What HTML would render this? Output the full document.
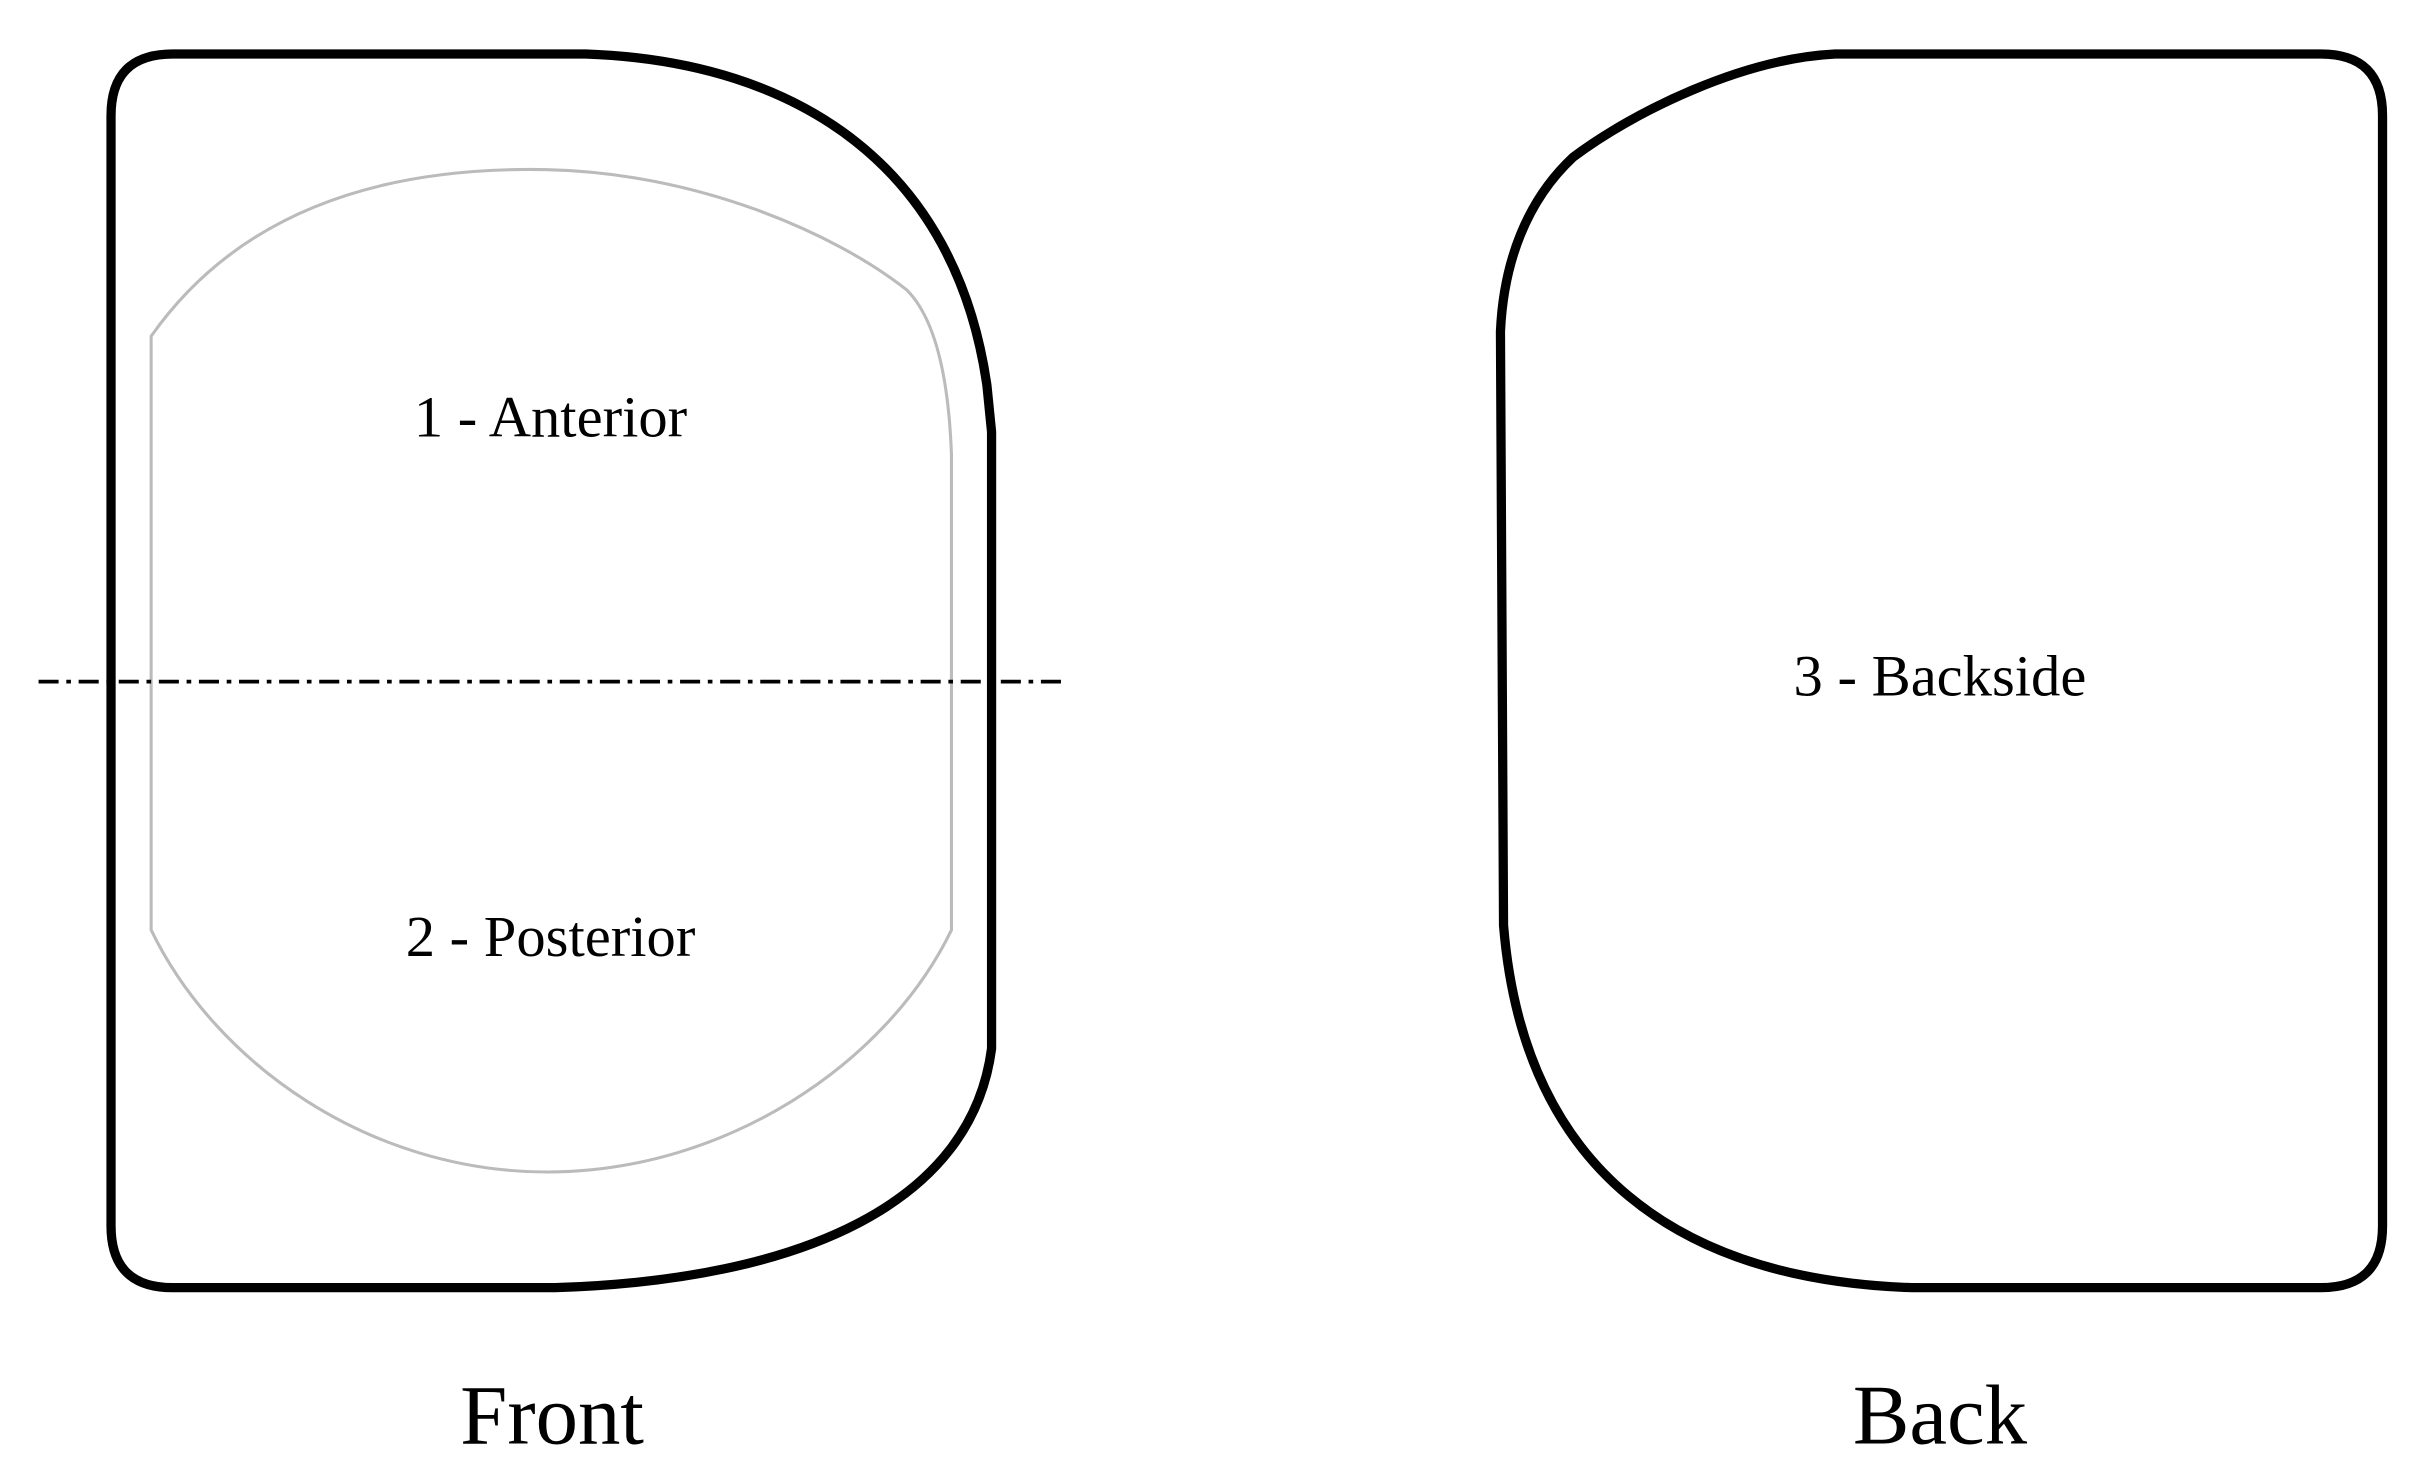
<!DOCTYPE html>
<html><head><style>html,body{margin:0;padding:0;background:#fff}svg{display:block}</style></head>
<body>
<svg width="2418" height="1478" viewBox="0 0 1568 958.4" xmlns="http://www.w3.org/2000/svg">
<rect width="1568" height="958.4" fill="#fff"/>
<path d="M112,35 L380,35 C520,40 620,110 640,250 L643,280 L643,680 C630,780 520,830 360,835 L112,835 Q72,835 72,795 L72,75 Q72,35 112,35 Z" fill="none" stroke="#000" stroke-width="6" stroke-linejoin="round"/>
<path d="M98,218 C160,130 260,108 355,110 C450,112 540,150 588,188 C605,205 615,240 617,295 L617,603 C575,690 470,760 355,760 C240,760 140,690 98,603 Z" fill="none" stroke="#bbb" stroke-width="2"/>
<line x1="25" y1="442" x2="692" y2="442" stroke="#000" stroke-width="2.5" stroke-dasharray="13,5,3,5"/>
<path d="M1505,35 Q1545,35 1545,75 L1545,795 Q1545,835 1505,835 L1240,835 C1090,830 988,760 975,600 L973,215 C975,170 990,130 1020,102 C1060,72 1130,38 1190,35 Z" fill="none" stroke="#000" stroke-width="6" stroke-linejoin="round"/>
<g font-family="'Liberation Serif', serif" fill="#000" text-anchor="middle">
<text x="357" y="283" font-size="38">1 - Anterior</text>
<text x="357" y="620" font-size="38">2 - Posterior</text>
<text x="1258" y="451" font-size="38">3 - Backside</text>
<text x="358" y="936" font-size="55">Front</text>
<text x="1258" y="936" font-size="55">Back</text>
</g>
</svg>
</body></html>
